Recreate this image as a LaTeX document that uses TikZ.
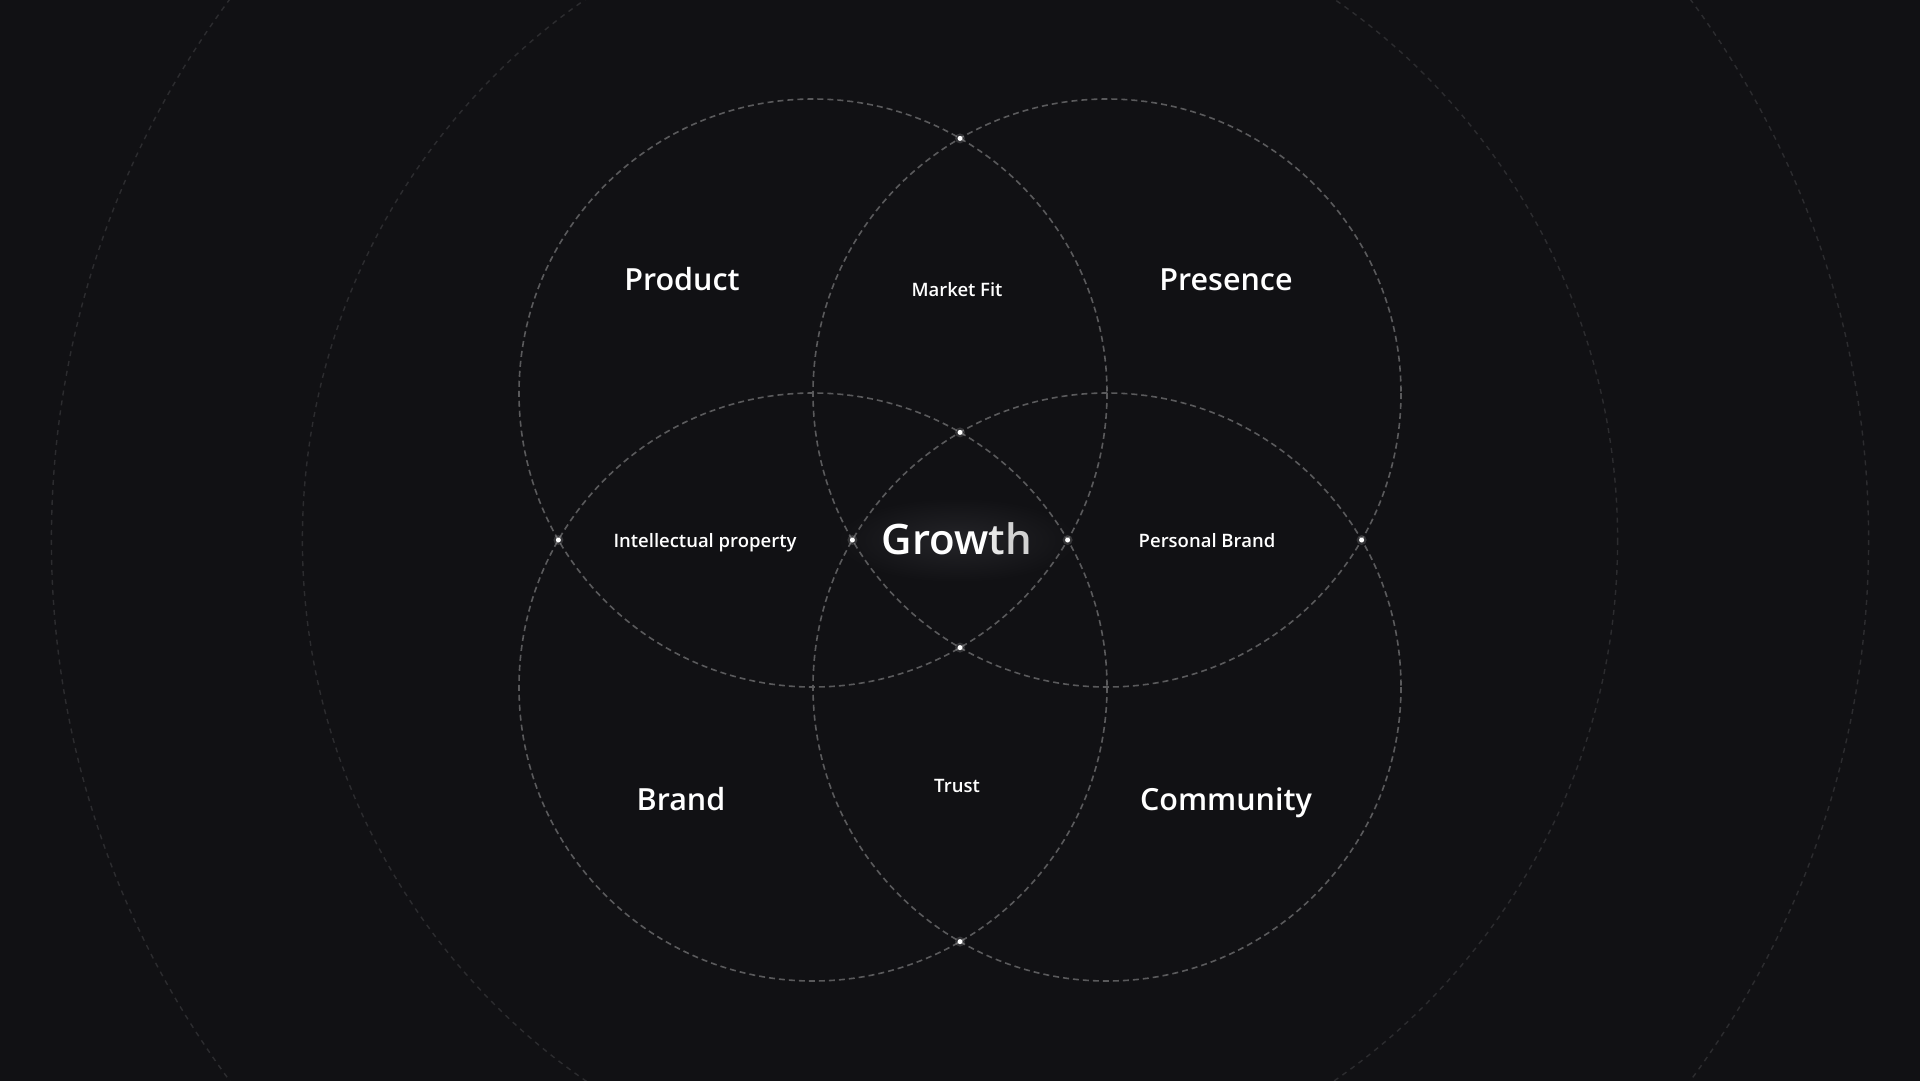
\documentclass[tikz,border=0pt]{standalone}
\usepackage{fontspec}
\IfFontExistsTF{Open Sans SemiBold}{\newfontfamily\labfont{Open Sans SemiBold}}{%
  \IfFontExistsTF{Open Sans Semibold}{\newfontfamily\labfont{Open Sans Semibold}}{%
    \newfontfamily\labfontx{Open Sans}\newcommand\labfont{\labfontx\bfseries}}}
\definecolor{bg}{HTML}{111114}
\definecolor{venn}{HTML}{5A5A5C}
\definecolor{outer}{HTML}{2C2C2F}
\definecolor{glowc}{HTML}{242428}
\tikzset{
  vennline/.style={draw=venn, line width=1.6pt, dash pattern=on 6pt off 4pt},
  outerline/.style={draw=outer, line width=1.4pt, dash pattern=on 5pt off 5pt},
  dotpt/.style={circle, fill=white, inner sep=0pt, minimum size=5pt},
  dotglow/.style={circle, fill=white, fill opacity=0.15, inner sep=0pt, minimum size=10pt},
  biglabel/.style={text=white, anchor=base, font=\labfont\fontsize{30.5}{34}\selectfont},
  smalllabel/.style={text=white, anchor=base, font=\labfont\fontsize{18.5}{22}\selectfont},
}
\begin{document}
\begin{tikzpicture}[x=1pt,y=-1pt]
\useasboundingbox (0,0) rectangle (1920,1080);
\fill[bg] (-4,-4) rectangle (1924,1084);
\clip (0,0) rectangle (1920,1080);
% centres
\coordinate (O) at (960,540);
\coordinate (TL) at (813,393);
\coordinate (TR) at (1107,393);
\coordinate (BL) at (813,687);
\coordinate (BR) at (1107,687);
% glow behind Growth
\shade[inner color=glowc, outer color=bg] (957,540) ellipse [x radius=120, y radius=42];
% outer circles
\draw[outerline] (O) circle [radius=908.6];
\draw[outerline] (O) circle [radius=657.6];
% venn circles
\foreach \c in {TL,TR,BL,BR}{\draw[vennline] (\c) circle [radius=294];}
% intersection dots
\foreach \n/\p in {d1/{(960,138.4)},d2/{(960,432.4)},d3/{(960,647.6)},d4/{(960,941.6)},
                  d5/{(558.4,540)},d6/{(852.4,540)},d7/{(1067.6,540)},d8/{(1361.6,540)}}{
  \node[dotglow] at \p {};
  \node[dotpt] (\n) at \p {};
}
% labels
\node[biglabel] (product) at (682,290) {Product};
\node[biglabel] (presence) at (1226,290) {Presence};
\node[biglabel] (brand) at (681,810) {Brand};
\node[biglabel] (community) at (1226,810) {Community};
\node[smalllabel] (marketfit) at (957,296) {Market Fit};
\node[smalllabel] (trust) at (957,792) {Trust};
\node[smalllabel] (ip) at (705,547) {Intellectual property};
\node[smalllabel] (pbrand) at (1207,547) {Personal Brand};
% Growth
\node[anchor=base, font=\labfont\fontsize{42}{46}\selectfont] (growth) at (957,554) {\textcolor{white}{Grow}\textcolor[HTML]{E6E6E6}{t}\textcolor[HTML]{D2D2D2}{h}};
\end{tikzpicture}
\end{document}
